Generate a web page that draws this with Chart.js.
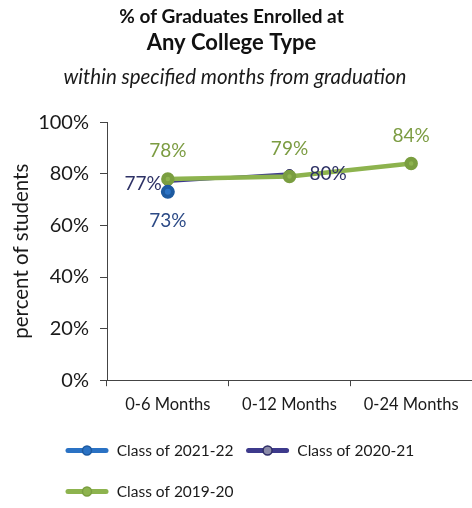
<!DOCTYPE html>
<html>
<head>
<meta charset="utf-8">
<script src="https://cdn.jsdelivr.net/npm/chart.js@4.4.1/dist/chart.umd.min.js"></script>
<style>
  html, body { margin: 0; padding: 0; background: #fff; }
  #wrap { width: 472px; height: 508px; }
</style>
</head>
<body>
<div id="wrap"><canvas id="enrolled"></canvas></div>
<script>
// dati
var categories = ['0-6 Months', '0-12 Months', '0-24 Months'];
var seriesNames = ['Class of 2021-22', 'Class of 2020-21', 'Class of 2019-20'];
var class2122 = [73, null, null];
var class2021 = [77, 80, null];
var class1920 = [78, 79, 84];
var yTicks = [0, 20, 40, 60, 80, 100];

Chart.defaults.font.family = 'Lato';
Chart.defaults.color = '#1a1a1a';

// etichette dei valori accanto ai punti
var pointLabels = {
  id: 'pointLabels',
  afterDatasetsDraw: function (chart) {
    var ctx = chart.ctx;
    ctx.save();
    ctx.font = '19px Lato';
    chart.data.datasets.forEach(function (ds, i) {
      var meta = chart.getDatasetMeta(i);
      meta.data.forEach(function (pt, j) {
        var v = ds.data[j];
        if (v === null || !ds.labelSide[j]) return;
        var side = ds.labelSide[j];
        var x = pt.x, y = pt.y;
        ctx.fillStyle = ds.labelColor;
        ctx.textBaseline = 'middle';
        if (side === 'above') { ctx.textAlign = 'center'; y -= 28; }
        if (side === 'below') { ctx.textAlign = 'center'; y += 29; }
        if (side === 'left') { ctx.textAlign = 'right'; x -= 6; y += 2; }
        if (side === 'right') { ctx.textAlign = 'left'; x += 20; }
        ctx.fillText(v + '%', x, y);
      });
    });
    ctx.restore();
  }
};

// terza riga del titolo + simboli della legenda (linea con punto)
var extras = {
  id: 'extras',
  afterLayout: function (chart) {
    chart.legend.left += 46;
    // titoli un po' spostati a sinistra come nell'originale
    chart.boxes.forEach(function (b) {
      if (b.options && typeof b.options.text === 'string' && b.options.position === 'top') {
        b.left -= 8;
        b.right -= 8;
      }
    });
  },
  afterDraw: function (chart) {
    var ctx = chart.ctx;
    ctx.save();
    ctx.font = 'italic 20.5px Lato';
    ctx.fillStyle = '#1a1a1a';
    ctx.textAlign = 'center';
    ctx.textBaseline = 'middle';
    ctx.fillText('within specified months from graduation', 235, chart.chartArea.top - 45);

    var legend = chart.legend;
    var boxW = legend.options.labels.boxWidth;
    legend.legendItems.forEach(function (item, k) {
      var hb = legend.legendHitBoxes[k];
      var ds = chart.data.datasets[item.datasetIndex];
      var cy = hb.top + hb.height / 2;
      ctx.strokeStyle = ds.borderColor;
      ctx.lineWidth = 5;
      ctx.lineCap = 'round';
      ctx.beginPath();
      ctx.moveTo(hb.left + 3, cy);
      ctx.lineTo(hb.left + boxW - 3, cy);
      ctx.stroke();
      ctx.beginPath();
      ctx.arc(hb.left + boxW / 2, cy, 4.5, 0, Math.PI * 2);
      ctx.fillStyle = ds.pointBackgroundColor;
      ctx.fill();
      ctx.lineWidth = 1.5;
      ctx.strokeStyle = ds.pointBorderColor;
      ctx.stroke();
    });
    ctx.restore();
  }
};

var chart = new Chart(document.getElementById('enrolled'), {
  type: 'line',
  data: {
    labels: categories,
    datasets: [{
      label: seriesNames[0],
      data: class2122,
      order: 0,
      borderColor: '#2a72c4',
      borderWidth: 4,
      pointRadius: 5,
      pointBackgroundColor: '#2a72c4',
      pointBorderColor: '#1d5aa0',
      labelColor: '#2c4a86',
      labelSide: ['below', null, null]
    }, {
      label: seriesNames[1],
      data: class2021,
      order: 2,
      borderColor: '#3d3a8c',
      borderWidth: 3,
      pointRadius: 4,
      pointBackgroundColor: '#8a8aa8',
      pointBorderColor: '#2e2c66',
      pointBorderWidth: 1.5,
      labelColor: '#2d3165',
      labelSide: ['left', 'right', null]
    }, {
      label: seriesNames[2],
      data: class1920,
      order: 1,
      borderColor: '#8db34e',
      borderWidth: 4.5,
      pointRadius: 4.5,
      pointBackgroundColor: '#8db34e',
      pointBorderColor: '#7a9e40',
      labelColor: '#7c9c42',
      labelSide: ['above', 'above', 'above']
    }]
  },
  options: {
    responsive: true,
    maintainAspectRatio: false,
    animation: false,
    layout: { autoPadding: false, padding: { left: 7, right: 0, top: 0, bottom: -8 } },
    plugins: {
      title: {
        display: true,
        text: '% of Graduates Enrolled at',
        color: '#111',
        font: { size: 19, weight: 'bold' },
        padding: { top: 5, bottom: 0 }
      },
      subtitle: {
        display: true,
        text: 'Any College Type',
        color: '#111',
        font: { size: 22, weight: 'bold' },
        padding: { top: 2, bottom: 66 }
      },
      legend: {
        position: 'bottom',
        align: 'start',
        labels: {
          boxWidth: 44,
          boxHeight: 29,
          padding: 12,
          color: '#1a1a1a',
          font: { size: 15.5 },
          sort: function (a, b) { return a.datasetIndex - b.datasetIndex; },
          generateLabels: function (chart) {
            return Chart.defaults.plugins.legend.labels.generateLabels(chart).map(function (item) {
              item.fillStyle = 'rgba(0,0,0,0)';
              item.strokeStyle = 'rgba(0,0,0,0)';
              item.lineWidth = 0;
              return item;
            });
          }
        }
      },
      tooltip: { enabled: false }
    },
    scales: {
      x: {
        offset: true,
        afterFit: function (scale) { scale.paddingRight = 0; scale.paddingLeft = 0; },
        grid: { offset: true, drawOnChartArea: false, tickLength: 6, color: '#444' },
        border: { color: '#444' },
        ticks: { padding: 9, font: { size: 16.5 }, color: '#1a1a1a' }
      },
      y: {
        min: 0,
        max: 100,
        afterBuildTicks: function (scale) {
          scale.ticks = yTicks.map(function (v) { return { value: v }; });
        },
        afterFit: function (scale) { scale.width = 100; },
        grid: { drawOnChartArea: false, tickLength: 7, color: '#444' },
        border: { color: '#444' },
        ticks: {
          padding: 11,
          font: { size: 20 },
          color: '#1a1a1a',
          callback: function (v) { return v + '%'; }
        },
        title: {
          display: true,
          text: 'percent of students',
          font: { size: 20.5 },
          color: '#1a1a1a',
          padding: { top: 2, bottom: 2 }
        }
      }
    }
  },
  plugins: [pointLabels, extras]
});
</script>
</body>
</html>
